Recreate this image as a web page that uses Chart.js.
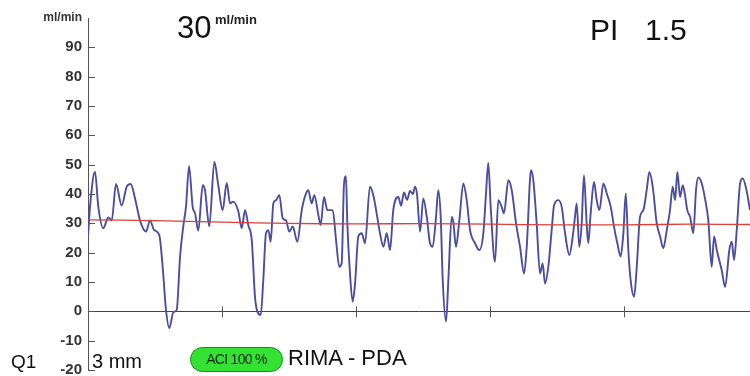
<!DOCTYPE html>
<html lang="en">
  <head>
    <meta charset="UTF-8" />
    <meta name="viewport" content="width=device-width, initial-scale=1.0" />
    <script src="https://cdn.jsdelivr.net/npm/chart.js"></script>
    <style>
      body { margin: 0; background: #fff; font-family: Arial, "Liberation Sans", sans-serif; }
      #wrap { position: relative; width: 750px; height: 376px; overflow: hidden; }
      #flowChart { position: absolute; left: 0; top: 0; }
      .txt { position: absolute; line-height: 1; white-space: nowrap; color: #111; }
      .pill {
        position: absolute; left: 190px; top: 347px; width: 93px; height: 25px;
        box-sizing: border-box; border: 1.5px solid #1c8a1c; border-radius: 13px;
        background: #34e234; color: #0b2a0b; font-size: 14px; letter-spacing: -0.7px;
        text-align: center; line-height: 22px;
      }
    </style>
  </head>
  <body>
    <div id="wrap">
      <canvas id="flowChart" width="750" height="376"></canvas>
      <div class="txt" style="left:177px; top:12px; font-size:31px;">30</div>
      <div class="txt" style="left:215px; top:13px; font-size:13px; font-weight:bold; color:#222;">ml/min</div>
      <div class="txt" style="left:590px; top:15px; font-size:30px;">PI</div>
      <div class="txt" style="left:645px; top:15px; font-size:30px;">1.5</div>
      <div class="txt" style="left:11px; top:352px; font-size:19px;">Q1</div>
      <div class="txt" style="left:92px; top:351px; font-size:20px;">3 mm</div>
      <div class="pill">ACI 100 %</div>
      <div class="txt" style="left:288px; top:347px; font-size:22px;">RIMA - PDA</div>
    </div>

    <script>
      // time in seconds (ticks on the zero line every second)
      const flowTimes = [
        0, 0.015, 0.052, 0.077, 0.114, 0.151, 0.177, 0.209, 0.251, 0.289,
        0.319, 0.351, 0.388, 0.433, 0.463, 0.493, 0.532, 0.557, 0.582, 0.607,
        0.637, 0.662, 0.687, 0.711, 0.731, 0.754, 0.781, 0.799, 0.823, 0.856,
        0.873, 0.905, 0.943, 0.972, 1.005, 1.035, 1.06, 1.084, 1.122, 1.147,
        1.172, 1.196, 1.222, 1.246, 1.263, 1.289, 1.308, 1.328, 1.346, 1.363,
        1.383, 1.403, 1.428, 1.453, 1.478, 1.502, 1.528, 1.562, 1.595, 1.627,
        1.644, 1.669, 1.689, 1.719, 1.736, 1.761, 1.786, 1.826, 1.851, 1.875,
        1.893, 1.91, 1.925, 1.935, 1.955, 1.975, 1.993, 2.017, 2.043, 2.067,
        2.104, 2.129, 2.154, 2.179, 2.204, 2.229, 2.254, 2.278, 2.316, 2.336,
        2.358, 2.381, 2.403, 2.425, 2.44, 2.455, 2.478, 2.502, 2.528, 2.552,
        2.572, 2.597, 2.614, 2.632, 2.647, 2.672, 2.689, 2.714, 2.726, 2.746,
        2.771, 2.801, 2.826, 2.851, 2.888, 2.92, 2.95, 2.97, 2.987, 3.005,
        3.037, 3.062, 3.087, 3.104, 3.137, 3.162, 3.194, 3.224, 3.254, 3.274,
        3.306, 3.323, 3.348, 3.373, 3.393, 3.41, 3.435, 3.46, 3.478, 3.51,
        3.535, 3.56, 3.592, 3.617, 3.634, 3.647, 3.666, 3.684, 3.701, 3.721,
        3.733, 3.751, 3.776, 3.796, 3.816, 3.846, 3.871, 3.901, 3.925, 3.95,
        3.975, 3.995, 4.013, 4.032, 4.052, 4.075, 4.095, 4.119, 4.144, 4.169,
        4.189, 4.214, 4.244, 4.269, 4.293, 4.319, 4.343, 4.363, 4.381, 4.398,
        4.418, 4.438, 4.455, 4.472, 4.493, 4.517, 4.537, 4.555, 4.58, 4.604,
        4.629, 4.654, 4.672, 4.692, 4.729, 4.754, 4.786, 4.804, 4.821, 4.841,
        4.866, 4.886, 4.914, 4.94,
      ];
      // flow in ml/min
      const flowValues = [
        25.4, 35.6, 47.6, 35.6, 28.3, 32, 31, 43.4, 36.1, 42.5,
        43.4, 38.5, 31, 27.2, 31, 27.7, 26, 15.2, 0.5, -5.7,
        -0.3, 0.5, 18.7, 29, 35.6, 49.5, 35.6, 33.4, 27.5, 43,
        41.3, 29, 51, 43, 34.5, 43.8, 36.8, 37.4, 34, 28.3,
        34.5, 29.4, 24.3, 5, 0, -1.2, 10.7, 26.6, 27.7, 23.7,
        36.8, 37.9, 39.6, 31.7, 31, 27.2, 28.9, 23.7, 34.5, 40.2,
        41.3, 36.8, 39.6, 32.8, 29.4, 39, 34.5, 34.5, 24.3, 15.2,
        16.4, 43, 46.1, 30, 12.9, 3.3, 9.6, 25.5, 26.6, 23.2,
        42.5, 39.6, 33.4, 26.6, 22, 26.6, 20.9, 34.5, 39, 36,
        40.5, 38, 41, 40, 42.5, 40, 27.2, 38.5, 32.2, 23.2,
        22, 32.2, 41.3, 32.2, 10.7, -3.5, 10.7, 32.2, 30.5, 22,
        31, 43.6, 37.9, 27.7, 23.2, 20.9, 26.6, 40.2, 50.6, 35.6,
        16.9, 37.9, 35.6, 33.4, 44.7, 41.3, 30, 22, 12.9, 22,
        48.1, 44.7, 30, 12.9, 16.3, 9.5, 15.2, 27.7, 36.2, 37.9,
        35.6, 26.6, 19.2, 25.5, 32.2, 36.8, 22, 30, 46.4, 30,
        23.2, 33.4, 44.1, 37.9, 34.5, 43.6, 40.2, 35.6, 28.9, 23.2,
        18.7, 26.6, 40.2, 20.9, 9.5, 5, 15.2, 32.2, 34.5, 41.3,
        47.5, 42.5, 30, 25.5, 21.5, 27.7, 34.5, 42.5, 37.9, 47.5,
        39, 43, 39.6, 34.5, 32.2, 26.6, 41.3, 45.6, 43.6, 38.5,
        31, 15.2, 25.5, 20.9, 14, 8.3, 20.9, 23.7, 17.5, 27.7,
        43.6, 45.3, 41.3, 34.5,
      ];
      // mean flow (red line)
      const meanTimes = [0, 0.5, 1, 1.5, 2, 2.5, 3, 3.5, 4, 4.5, 4.94];
      const meanValues = [31.2, 30.9, 30.4, 30.0, 29.8, 29.9, 29.7, 29.5, 29.5, 29.7, 29.6];
      const timeTicks = [1, 2, 3, 4];

      const toPoints = (xs, ys) => xs.map((x, i) => ({ x: x, y: ys[i] }));

      // short tick marks drawn inside the plot, like the monitor does
      const innerTicks = {
        id: "innerTicks",
        afterDraw(chart) {
          const c = chart.ctx;
          const xs = chart.scales.x;
          const ys = chart.scales.y;
          const left = chart.chartArea.left;
          c.save();
          c.strokeStyle = "#555";
          c.lineWidth = 1;
          c.beginPath();
          ys.ticks.forEach((t) => {
            if (t.value >= 100) return;
            const py = Math.round(ys.getPixelForValue(t.value)) + 0.5;
            c.moveTo(left, py);
            c.lineTo(left + 7, py);
          });
          const y0 = ys.getPixelForValue(0);
          timeTicks.forEach((t) => {
            const px = Math.round(xs.getPixelForValue(t)) + 0.5;
            c.moveTo(px, y0 - 5);
            c.lineTo(px, y0 + 6);
          });
          c.stroke();
          c.restore();
        },
      };

      const ctx = document.getElementById("flowChart");
      const myChart = new Chart(ctx, {
        type: "line",
        data: {
          datasets: [
            {
              label: "Mean",
              data: toPoints(meanTimes, meanValues),
              borderColor: "#d9413c",
              borderWidth: 1.3,
              pointRadius: 0,
              tension: 0.4,
            },
            {
              label: "Flow",
              data: toPoints(flowTimes, flowValues),
              borderColor: "#4d4d9f",
              borderWidth: 1.9,
              pointRadius: 0,
              cubicInterpolationMode: "monotone",
            },
          ],
        },
        options: {
          responsive: false,
          animation: false,
          devicePixelRatio: 1,
          layout: { padding: { top: 18, bottom: 6, left: 0, right: 0 } },
          plugins: { legend: { display: false }, tooltip: { enabled: false } },
          scales: {
            x: { type: "linear", min: 0, max: 4.94, display: false },
            y: {
              min: -20,
              max: 100,
              ticks: {
                stepSize: 10,
                padding: 6,
                color: "#333",
                callback: (v) => (v === 100 ? "ml/min" : v),
                font: (c) =>
                  c.tick && c.tick.value === 100
                    ? { family: "Arial, 'Liberation Sans'", size: 12, weight: "bold" }
                    : { family: "Arial, 'Liberation Sans'", size: 15, weight: "bold" },
              },
              grid: {
                drawTicks: false,
                color: (c) => (c.tick && c.tick.value === 0 ? "#444" : "rgba(0,0,0,0)"),
              },
              border: { display: true, color: "#555", width: 1 },
              afterFit(scale) {
                scale.width = 88;
                scale.paddingTop = 0;
                scale.paddingBottom = 0;
              },
            },
          },
        },
        plugins: [innerTicks],
      });
    </script>
  </body>
</html>
